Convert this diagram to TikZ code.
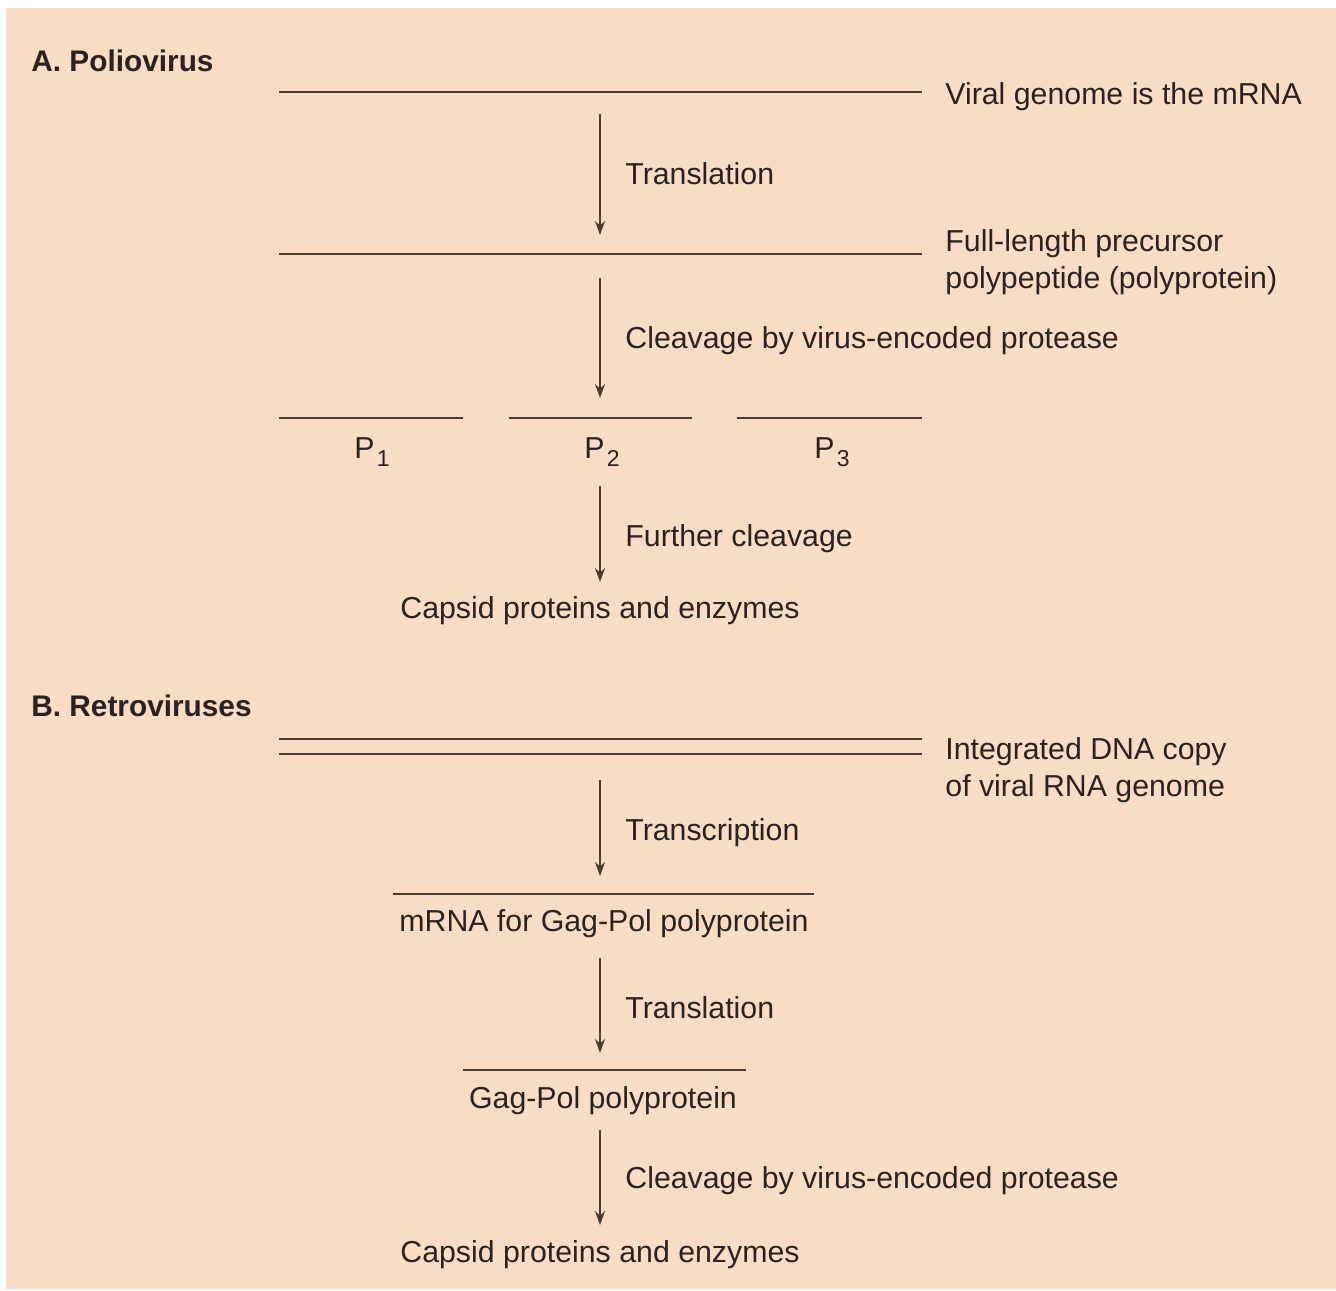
\documentclass[tikz,border=0pt]{standalone}
\usepackage{fontspec}
\setmainfont{Liberation Sans}
\usetikzlibrary{arrows.meta}
\definecolor{peach}{HTML}{F8DCC3}
\definecolor{linec}{HTML}{4B3B30}
\definecolor{textc}{HTML}{2B2222}
\newcommand{\subidx}[1]{\raisebox{-0.55ex}{\hspace{0.08em}\fontsize{11.5}{12}\selectfont #1}}
\begin{document}
\begin{tikzpicture}[x=0.5pt,y=-0.5pt,
  txt/.style={inner sep=0pt,text=textc,font=\fontsize{15.15}{18.2}\selectfont},
  lbl/.style={txt,anchor=base west},
  ctr/.style={txt,anchor=base},
  head/.style={txt,anchor=base west,font=\fontsize{14.9}{18}\selectfont\bfseries},
  strand/.style={draw=linec,line width=1.1pt},
  step arrow/.style={draw=linec,line width=0.9pt,-{Stealth[length=7pt,width=5pt]}}]
\useasboundingbox (0,0) rectangle (1336,1290);
\fill[peach] (6,8) rectangle (1336,1289);

% A. Poliovirus
\node[head] (hA) at (31,71) {A. Poliovirus};
\draw[strand] (279,92) coordinate (g1) -- (922,92) coordinate (g2);
\node[lbl] (tg) at (945,104) {Viral genome is the mRNA};
\coordinate (a1s) at (600,114); \coordinate (a1e) at (600,235);
\draw[step arrow] (a1s) -- (a1e);
\node[lbl] (t1) at (625,184) {Translation};
\draw[strand] (279,254) coordinate (pp1) -- (922,254) coordinate (pp2);
\node[lbl] (tp1) at (945,251) {Full-length precursor};
\node[lbl] (tp2) at (945,288) {polypeptide (polyprotein)};
\coordinate (a2s) at (600,278); \coordinate (a2e) at (600,398);
\draw[step arrow] (a2s) -- (a2e);
\node[lbl] (t2) at (625,348) {Cleavage by virus-encoded protease};
\draw[strand] (279,418) coordinate (q1a) -- (463,418) coordinate (q1b);
\draw[strand] (509,418) coordinate (q2a) -- (692,418) coordinate (q2b);
\draw[strand] (737,418) coordinate (q3a) -- (922,418) coordinate (q3b);
\node[ctr] (P1) at (372,458) {P\subidx{1}};
\node[ctr] (P2) at (602,458) {P\subidx{2}};
\node[ctr] (P3) at (832,458) {P\subidx{3}};
\coordinate (a3s) at (600,486); \coordinate (a3e) at (600,582);
\draw[step arrow] (a3s) -- (a3e);
\node[lbl] (t3) at (625,546) {Further cleavage};
\node[ctr] (capA) at (600,618) {Capsid proteins and enzymes};

% B. Retroviruses
\node[head] (hB) at (31,716) {B. Retroviruses};
\draw[strand] (279,739) coordinate (d1) -- (922,739) coordinate (d2);
\draw[strand] (279,754) coordinate (d3) -- (922,754) coordinate (d4);
\node[lbl] (td1) at (945,759) {Integrated DNA copy};
\node[lbl] (td2) at (945,796) {of viral RNA genome};
\coordinate (b1s) at (600,780); \coordinate (b1e) at (600,876);
\draw[step arrow] (b1s) -- (b1e);
\node[lbl] (tb1) at (625,840) {Transcription};
\draw[strand] (393,894) coordinate (m1) -- (814,894) coordinate (m2);
\node[ctr] (mrna) at (604,931) {mRNA for Gag-Pol polyprotein};
\coordinate (b2s) at (600,958); \coordinate (b2e) at (600,1053);
\draw[step arrow] (b2s) -- (b2e);
\node[lbl] (tb2) at (625,1018) {Translation};
\draw[strand] (463,1070) coordinate (gp1) -- (746,1070) coordinate (gp2);
\node[ctr] (gagpol) at (603,1108) {Gag-Pol polyprotein};
\coordinate (b3s) at (600,1130); \coordinate (b3e) at (600,1225);
\draw[step arrow] (b3s) -- (b3e);
\node[lbl] (tb3) at (625,1188) {Cleavage by virus-encoded protease};
\node[ctr] (capB) at (600,1262) {Capsid proteins and enzymes};
\end{tikzpicture}
\end{document}
